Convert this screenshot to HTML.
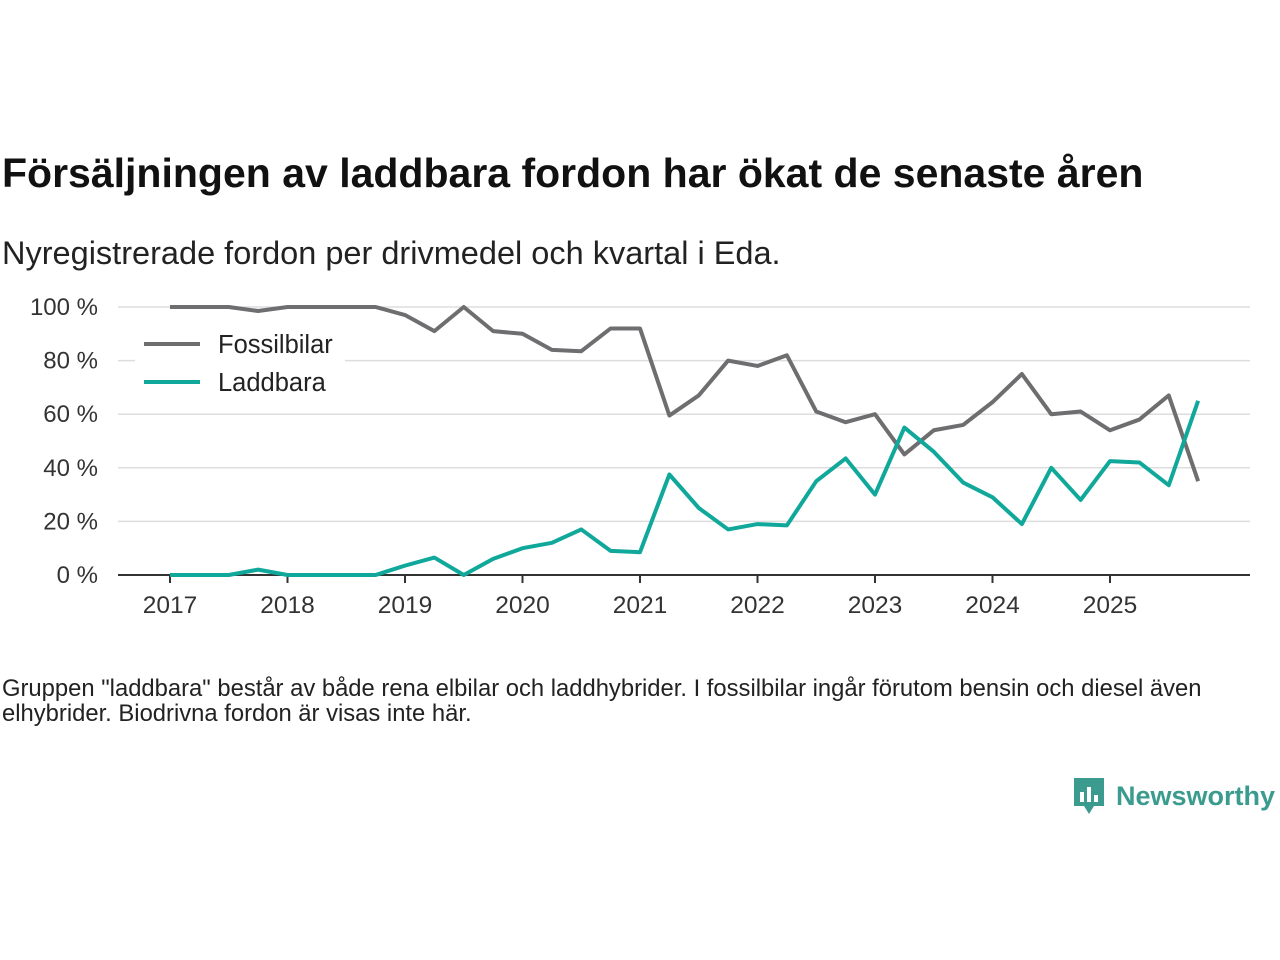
<!DOCTYPE html>
<html><head><meta charset="utf-8"><style>
body{margin:0;width:1280px;height:960px;background:#fff;font-family:"Liberation Sans","DejaVu Sans",sans-serif;overflow:hidden;position:relative}
.t{position:absolute;left:2px;top:150px;font-size:41px;font-weight:bold;color:#111}
.s{position:absolute;left:2px;top:235px;font-size:32.5px;color:#222}
.n{position:absolute;left:2px;top:676px;font-size:23.8px;color:#222;line-height:25px;width:1230px}
.logo{position:absolute;left:1072px;top:776px;display:flex;align-items:center;gap:10px;color:#3b9b8e;font-size:27px;font-weight:bold}
</style></head><body>
<div class="t">Försäljningen av laddbara fordon har ökat de senaste åren</div>
<div class="s">Nyregistrerade fordon per drivmedel och kvartal i Eda.</div>
<svg id="c" width="1280" height="960" style="position:absolute;left:0;top:0"></svg>
<div class="n">Gruppen "laddbara" består av både rena elbilar och laddhybrider. I fossilbilar ingår förutom bensin och diesel även elhybrider. Biodrivna fordon är visas inte här.</div>
<div class="logo"><svg width="34" height="40" viewBox="0 0 34 40"><path d="M2 2h30v28H22l-5 8-5-8H2z" fill="#3b9b8e"/><rect x="8" y="16" width="4" height="10" fill="#fff"/><rect x="15" y="11" width="4" height="15" fill="#fff"/><rect x="22" y="19" width="4" height="7" fill="#fff"/></svg><span>Newsworthy</span></div>
<script>
const years=[2017,2018,2019,2020,2021,2022,2023,2024,2025];
const yTicks=[0,20,40,60,80,100];
const fossil=[100,100,100,98.5,100,100,100,100,97,91,100,91,90,84,83.5,92,92,59.5,67,80,78,82,61,57,60,45,54,56,64.5,75,60,61,54,58,67,35];
const laddbara=[0,0,0,2,0,0,0,0,3.5,6.5,0,6,10,12,17,9,8.5,37.5,25,17,19,18.5,35,43.5,30,55,46,34.5,29,19,40,28,42.5,42,33.5,65];
const svg=document.getElementById('c');const NS='http://www.w3.org/2000/svg';
const X=i=>170+i*117.5/4, Y=v=>575-v*2.68;
function mk(t,a){const e=document.createElementNS(NS,t);for(const k in a)e.setAttribute(k,a[k]);svg.appendChild(e);return e;}
yTicks.forEach(v=>{
 const g=mk('line',{x1:118,x2:1250,y1:Y(v),y2:Y(v),stroke:v?'#ddd':'#333','stroke-width':v?1.5:2});
 
 
 const t=mk('text',{x:98,y:Y(v)+8,'text-anchor':'end','font-size':24,fill:'#333'});t.textContent=v+' %';
 
 
});
years.forEach((y,k)=>{
 const x=X(k*4);
 const tk=mk('line',{x1:x,x2:x,y1:575,y2:583,stroke:'#333','stroke-width':2});
 
 
 const t=mk('text',{x:x,y:613,'text-anchor':'middle','font-size':24.5,fill:'#333'});t.textContent=y;
 
 
});
function line(d,c,n){const p=mk('polyline',{points:d.map((v,i)=>X(i)+','+Y(v)).join(' '),fill:'none',stroke:c,'stroke-width':4,'stroke-linejoin':'round'});
 
 }
line(fossil,'#6e6e70','fossilbilar-line');
line(laddbara,'#10a89a','laddbara-line');
const bg=mk('rect',{x:135,y:325,width:210,height:80,fill:'#fff'});


[['Fossilbilar','#6e6e70',344],['Laddbara','#10a89a',382]].forEach(([n,c,y])=>{
 const l=mk('line',{x1:144,x2:200,y1:y,y2:y,stroke:c,'stroke-width':4});
 
 
 const t=mk('text',{x:218,y:y+9,'font-size':25.5,fill:'#222'});t.textContent=n;
 
 
});
</script>
</body></html>
